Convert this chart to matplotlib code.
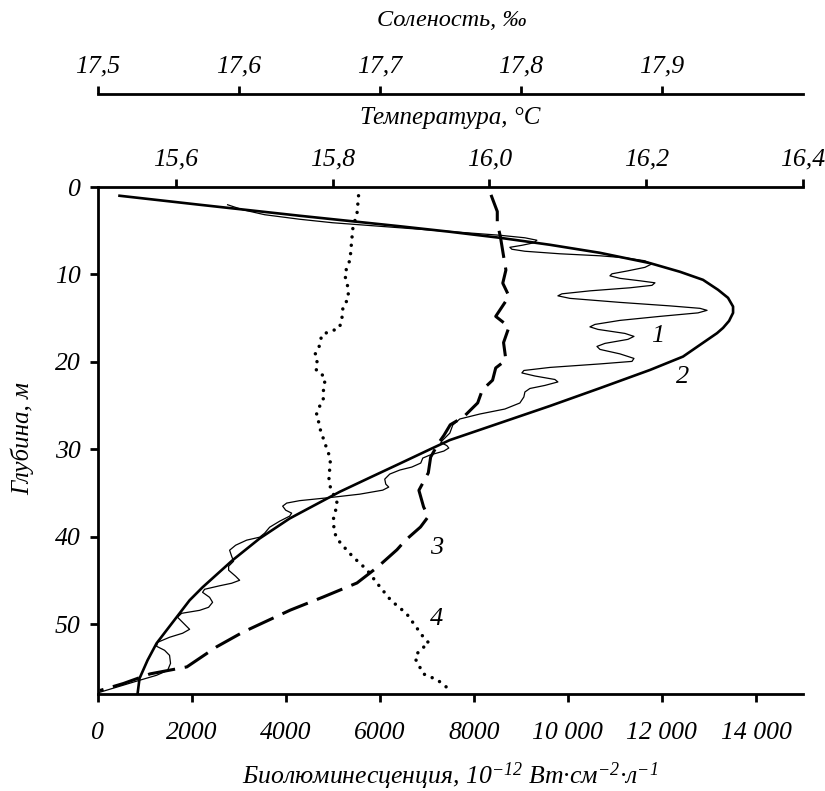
import matplotlib
matplotlib.use('Agg')
import matplotlib.pyplot as plt

plt.rcParams['font.family'] = ['Liberation Serif', 'DejaVu Serif']
plt.rcParams['font.style'] = 'italic'
plt.rcParams['mathtext.fontset'] = 'custom'
plt.rcParams['mathtext.rm'] = 'Liberation Serif:italic'
plt.rcParams['mathtext.it'] = 'Liberation Serif:italic'
plt.rcParams['mathtext.default'] = 'rm'

# ---- Data ----
# Curve 1: measured bioluminescence (bio units) vs depth (m)
bio1 = [2766, 3086, 3554, 4299, 5001, 6427, 7852, 8555, 9087, 9342,
        9278, 9023, 8767, 8810, 9087, 9831, 10683, 11214, 11640, 11789,
        11640, 11278, 10938, 10895, 11108, 11534, 11853, 11789, 11321, 10470,
        9874, 9789, 10044, 11108, 12172, 12810, 12960, 12768, 11959, 11108,
        10576, 10470, 10640, 11214, 11406, 11278, 10789, 10619, 10683, 11108,
        11406, 11364, 10683, 9619, 9065, 9023, 9299, 9725, 9789, 9512,
        9193, 9087, 9065, 8980, 8661, 8129, 7703, 7554, 7491, 7342,
        7299, 7427, 7469, 7363, 7065, 6916, 6873, 6682, 6427, 6214,
        6107, 6129, 6192, 6065, 5575, 4937, 4299, 4022, 3937, 4001,
        4128, 4086, 3873, 3660, 3554, 3447, 3171, 2937, 2809, 2852,
        2894, 2788, 2788, 2937, 3022, 2852, 2596, 2277, 2234, 2383,
        2447, 2362, 2171, 1788, 1702, 1851, 1958, 1809, 1532, 1277,
        1256, 1426, 1532, 1553, 1490, 1256, 894, 468, 43]
depth1 = [2.03, 2.60, 3.17, 3.69, 4.09, 4.66, 5.23, 5.52, 5.81, 6.09,
          6.38, 6.67, 6.90, 7.12, 7.35, 7.64, 7.87, 8.10, 8.44, 8.79,
          9.19, 9.59, 9.93, 10.16, 10.45, 10.73, 10.96, 11.25, 11.53, 11.88,
          12.22, 12.45, 12.74, 13.20, 13.60, 13.88, 14.11, 14.40, 14.80, 15.26,
          15.72, 16.00, 16.29, 16.75, 17.09, 17.43, 17.89, 18.24, 18.58, 19.09,
          19.61, 19.95, 20.24, 20.64, 20.99, 21.27, 21.62, 22.02, 22.30, 22.70,
          23.05, 23.45, 24.02, 24.71, 25.40, 25.97, 26.54, 27.23, 28.15, 28.95,
          29.23, 29.58, 29.86, 30.21, 30.67, 31.01, 31.58, 32.04, 32.38, 32.84,
          33.42, 33.99, 34.33, 34.68, 35.14, 35.53, 35.88, 36.16, 36.51, 36.97,
          37.31, 37.65, 38.23, 38.92, 39.60, 40.06, 40.40, 40.98, 41.55, 42.24,
          42.81, 43.38, 43.84, 44.53, 44.99, 45.33, 45.62, 46.02, 46.37, 46.94,
          47.51, 48.08, 48.43, 48.77, 49.22, 50.02, 50.60, 51.05, 51.51, 52.09,
          52.54, 53.00, 53.58, 54.49, 55.30, 55.86, 56.43, 57.12, 57.81]

# Curve 2: smoothed bioluminescence profile
bio2 = [468, 2171, 4299, 6427, 7491, 8555, 9619, 10683, 11747, 12385,
        12874, 13194, 13406, 13513, 13513, 13428, 13300, 13172, 12810, 12449,
        11747, 10683, 9619, 8555, 7491, 7065, 6427, 5788, 5150, 4511,
        4086, 3447, 2873, 2234, 1958, 1681, 1468, 1256, 1064, 894, 851]
depth2 = [1.00, 2.03, 3.29, 4.49, 5.12, 5.81, 6.61, 7.53, 8.71, 9.70,
          10.62, 11.76, 12.68, 13.68, 14.40, 15.32, 16.12, 16.72, 18.06, 19.40,
          20.93, 23.01, 25.05, 27.00, 28.95, 30.02, 31.64, 33.25, 34.87, 36.70,
          37.92, 40.21, 42.69, 45.79, 47.28, 49.22, 50.71, 52.20, 54.14, 56.21, 58.0]

# Curve 3: temperature, deg C
temp3 = [16.002, 16.010, 16.010, 16.014, 16.018, 16.021, 16.017, 16.025, 16.008, 16.025,
         16.018, 16.021, 16.008, 16.004, 15.991, 15.985, 15.967, 15.950, 15.942, 15.935,
         15.925, 15.922, 15.910, 15.916, 15.922, 15.912, 15.893, 15.882, 15.857, 15.831,
         15.788, 15.746, 15.686, 15.652, 15.614, 15.567, 15.533, 15.503]
depth3 = [0.9, 2.8, 4.1, 5.7, 7.9, 9.5, 11.0, 12.5, 14.8, 16.0,
          17.8, 19.8, 20.7, 22.1, 23.2, 24.7, 26.3, 27.2, 28.4, 29.3,
          30.9, 32.7, 34.7, 36.6, 37.7, 38.9, 40.4, 41.5, 43.5, 45.3,
          46.9, 48.4, 50.9, 52.6, 54.9, 55.7, 56.8, 57.6]

# Curve 4: salinity, per mille
sal4 = [17.685, 17.684, 17.681, 17.680, 17.679, 17.675, 17.677, 17.678, 17.674, 17.673,
        17.671, 17.665, 17.659, 17.657, 17.654, 17.656, 17.655, 17.661, 17.661, 17.660,
        17.660, 17.657, 17.655, 17.657, 17.658, 17.662, 17.664, 17.665, 17.664, 17.665,
        17.670, 17.667, 17.668, 17.672, 17.681, 17.691, 17.698, 17.708, 17.719, 17.731,
        17.735, 17.728, 17.725, 17.731, 17.741, 17.748]
depth4 = [1.0, 2.9, 4.7, 6.4, 8.3, 10.0, 11.0, 12.7, 13.7, 15.4,
          16.2, 16.5, 16.9, 18.3, 19.2, 20.2, 21.0, 21.7, 22.5, 23.4,
          24.4, 25.2, 26.1, 27.0, 27.8, 29.7, 30.6, 31.5, 33.3, 34.3,
          36.2, 38.1, 39.6, 40.7, 42.3, 43.8, 45.3, 47.3, 48.8, 51.5,
          52.2, 53.0, 53.9, 55.7, 56.4, 57.3]

bio_ticks = [0, 2000, 4000, 6000, 8000, 10000, 12000, 14000]
bio_labels = ['0', '2000', '4000', '6000', '8000', '10 000', '12 000', '14 000']
depth_ticks = [0, 10, 20, 30, 40, 50]
depth_labels = ['0', '10', '20', '30', '40', '50']
temp_ticks = [15.6, 15.8, 16.0, 16.2, 16.4]
temp_labels = ['15,6', '15,8', '16,0', '16,2', '16,4']
sal_ticks = [17.5, 17.6, 17.7, 17.8, 17.9]
sal_labels = ['17,5', '17,6', '17,7', '17,8', '17,9']

curve_labels = ['1', '2', '3', '4']
curve_label_x = [11917, 12449, 7214, 7214]
curve_label_y = [17.1, 21.7, 41.3, 49.4]

# ---- Figure ----
W, H = 825, 791
fig = plt.figure(figsize=(W / 100, H / 100), dpi=100)
x0, x1 = 97.5, 803
y0, y1 = 187, 694
ax = fig.add_axes([x0 / W, 1 - y1 / H, (x1 - x0) / W, (y1 - y0) / H])
ax.set_xlim(0, 15000)
ax.set_ylim(58, 0)

TICK_FS = 18.5
LW_SPINE = 2.0

for s in ['right', 'top']:
    ax.spines[s].set_visible(False)
for s in ['left', 'bottom']:
    ax.spines[s].set_linewidth(LW_SPINE)

ax.set_xticks(bio_ticks)
ax.set_xticklabels(bio_labels, fontsize=TICK_FS)
ax.set_yticks(depth_ticks)
ax.set_yticklabels(depth_labels, fontsize=TICK_FS)
ax.tick_params(axis='x', direction='out', length=6, width=LW_SPINE, pad=14)
ax.tick_params(axis='y', direction='out', length=6, width=LW_SPINE, pad=6)

ax.plot(bio1, depth1, color='black', lw=0.9, solid_joinstyle='round')
ax.plot(bio2, depth2, color='black', lw=1.9, solid_joinstyle='round')

for t, xx, yy in zip(curve_labels, curve_label_x, curve_label_y):
    ax.text(xx, yy, t, fontsize=19, ha='center', va='center')

# Temperature axis (top)
axT = ax.twiny()
axT.set_xlim(15.5, 16.4)
for s in ['left', 'right', 'bottom']:
    axT.spines[s].set_visible(False)
axT.spines['top'].set_linewidth(LW_SPINE)
axT.set_xticks(temp_ticks)
axT.set_xticklabels(temp_labels, fontsize=TICK_FS)
axT.tick_params(axis='x', direction='out', length=6, width=LW_SPINE, pad=6)
axT.plot(temp3, depth3, color='black', lw=2.2, dashes=(9, 3.2), solid_joinstyle='round')

# Salinity axis (upper top)
axS = ax.twiny()
axS.set_xlim(17.5, 18.0)
for s in ['left', 'right', 'bottom']:
    axS.spines[s].set_visible(False)
axS.spines['top'].set_position(('axes', (y1 - 94) / (y1 - y0)))
axS.spines['top'].set_linewidth(LW_SPINE)
axS.set_xticks(sal_ticks)
axS.set_xticklabels(sal_labels, fontsize=TICK_FS)
axS.tick_params(axis='x', direction='out', length=6, width=LW_SPINE, pad=6)
axS.plot(sal4, depth4, color='black', lw=2.5, dashes=(0.01, 2.4), dash_capstyle='round')

# Titles
fig.text(452 / W, 1 - 20 / H, 'Соленость, ‰', fontsize=17.5, ha='center', va='center')
fig.text(450 / W, 1 - 118 / H, 'Температура, °C', fontsize=18, ha='center', va='center')
fig.text(450 / W, 1 - 776 / H,
         'Биолюминесценция, 10$^{-12}$ Вт·см$^{-2}$·л$^{-1}$',
         fontsize=18.5, ha='center', va='center')
fig.text(22 / W, 1 - 438 / H, 'Глубина, м', fontsize=18, ha='center', va='center',
         rotation=90)

fig.savefig('out.png', dpi=100)
